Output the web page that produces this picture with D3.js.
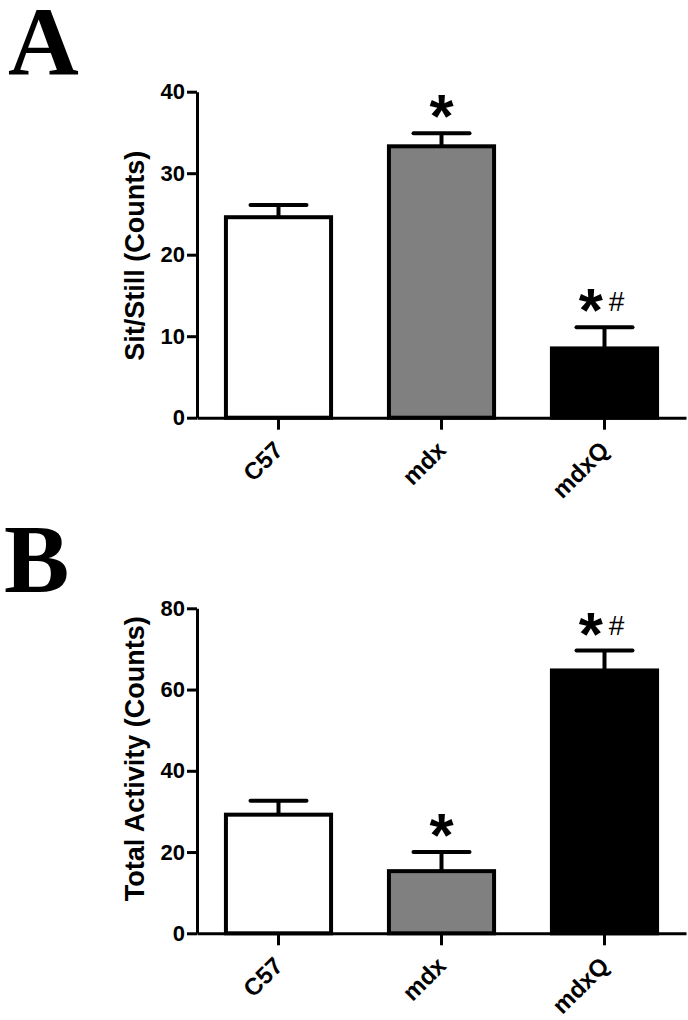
<!DOCTYPE html>
<html>
<head>
<meta charset="utf-8">
<script src="https://cdn.jsdelivr.net/npm/d3@7"></script>
<style>
body { margin: 0; background: #fff; }
text { font-family: "Liberation Sans", Arial, sans-serif; }
</style>
</head>
<body>
<div id="chart"></div>
<script>
// groups on the x axis
var groups = ["C57", "mdx", "mdxQ"];

// panel A: sit/still counts (mean, SEM)
var sitMean = [24.6, 33.3, 8.5];
var sitSem = [1.5, 1.6, 2.6];
var sitMarks = ["", "*", "*#"];
var sitTicks = [0, 10, 20, 30, 40];

// panel B: total activity counts (mean, SEM)
var actMean = [29.2, 15.3, 64.7];
var actSem = [3.4, 4.7, 4.9];
var actMarks = ["", "*", "*#"];
var actTicks = [0, 20, 40, 60, 80];

var width = 688, height = 1020;
var axisLeft = 197, axisRight = 686;

var fill = d3.scaleOrdinal()
  .domain(groups)
  .range(["#ffffff", "#808080", "#000000"]);

var svg = d3.select("#chart")
  .append("svg")
  .attr("width", width)
  .attr("height", height);

var x = d3.scaleBand()
  .domain(groups)
  .range([axisLeft, axisRight])
  .paddingInner(0.355)
  .paddingOuter(0.1775);

function drawPanel(p) {
  var y = d3.scaleLinear()
    .domain([0, d3.max(p.ticks)])
    .range([p.bottom, p.top]);

  var rows = groups.map(function(g, i) {
    return {group: g, mean: p.mean[i], sem: p.sem[i], mark: p.marks[i]};
  });

  var g = svg.append("g");

  // bars
  g.selectAll("rect.bar")
    .data(rows)
    .enter().append("rect")
    .attr("class", "bar")
    .attr("x", function(d) { return x(d.group); })
    .attr("y", function(d) { return y(d.mean); })
    .attr("width", x.bandwidth())
    .attr("height", function(d) { return y(0) - y(d.mean); })
    .attr("fill", function(d) { return fill(d.group); })
    .attr("stroke", "#000")
    .attr("stroke-width", 4);

  // upper error bars
  var cx = function(d) { return x(d.group) + x.bandwidth() / 2; };
  g.selectAll("line.stem")
    .data(rows)
    .enter().append("line")
    .attr("x1", cx).attr("x2", cx)
    .attr("y1", function(d) { return y(d.mean); })
    .attr("y2", function(d) { return y(d.mean + d.sem); })
    .attr("stroke", "#000")
    .attr("stroke-width", 4);

  g.selectAll("line.cap")
    .data(rows)
    .enter().append("line")
    .attr("x1", function(d) { return cx(d) - 28; })
    .attr("x2", function(d) { return cx(d) + 28; })
    .attr("y1", function(d) { return y(d.mean + d.sem); })
    .attr("y2", function(d) { return y(d.mean + d.sem); })
    .attr("stroke", "#000")
    .attr("stroke-width", 4)
    .attr("stroke-linecap", "round");

  // significance marks
  var marks = g.selectAll("text.mark")
    .data(rows.filter(function(d) { return d.mark; }))
    .enter().append("text")
    .attr("x", function(d) { return cx(d) + (d.mark.length > 1 ? -3 : 0); })
    .attr("y", function(d) { return y(d.mean + d.sem) + 4; })
    .attr("text-anchor", "middle");
  marks.append("tspan")
    .style("font-size", "62px")
    .style("font-weight", "bold")
    .text("*");
  marks.filter(function(d) { return d.mark.indexOf("#") >= 0; })
    .append("tspan")
    .attr("dx", 6)
    .attr("dy", -20)
    .style("font-size", "28px")
    .text("#");

  // y axis
  var ya = g.append("g")
    .attr("transform", "translate(" + axisLeft + ",0)")
    .call(d3.axisLeft(y).tickValues(p.ticks).tickSize(10).tickSizeOuter(0).tickPadding(2));
  ya.selectAll("text")
    .style("font-size", "22px")
    .style("font-weight", "bold")
    .attr("fill", "#000");

  // x axis
  var xa = g.append("g")
    .attr("transform", "translate(0," + p.bottom + ")")
    .call(d3.axisBottom(x).tickSize(12).tickSizeOuter(0));
  xa.selectAll("text")
    .style("font-size", "24px")
    .style("font-weight", "bold")
    .attr("fill", "#000")
    .attr("text-anchor", "end")
    .attr("transform", "translate(0,28) rotate(-45)")
    .attr("dy", "0.35em")
    .attr("y", 0).attr("x", 0);

  g.selectAll(".domain, .tick line")
    .attr("stroke", "#000")
    .attr("stroke-width", 3);

  // y label
  g.append("text")
    .attr("transform", "translate(143.5," + ((p.top + p.bottom) / 2 + p.labelShift) + ") rotate(-90)")
    .attr("text-anchor", "middle")
    .style("font-size", "27px")
    .style("font-weight", "bold")
    .text(p.label);

  // panel letter
  g.append("text")
    .attr("x", p.letterX)
    .attr("y", p.letterY)
    .style("font-family", "'Liberation Serif', 'Times New Roman', serif")
    .style("font-size", "98px")
    .style("font-weight", "bold")
    .text(p.letter);
}

drawPanel({
  top: 91.7, bottom: 417.7,
  ticks: sitTicks, mean: sitMean, sem: sitSem, marks: sitMarks,
  label: "Sit/Still (Counts)", labelShift: 1,
  letter: "A", letterX: 8, letterY: 74
});

drawPanel({
  top: 608.3, bottom: 933.3,
  ticks: actTicks, mean: actMean, sem: actSem, marks: actMarks,
  label: "Total Activity (Counts)", labelShift: -12,
  letter: "B", letterX: 4, letterY: 592
});
</script>
</body>
</html>
